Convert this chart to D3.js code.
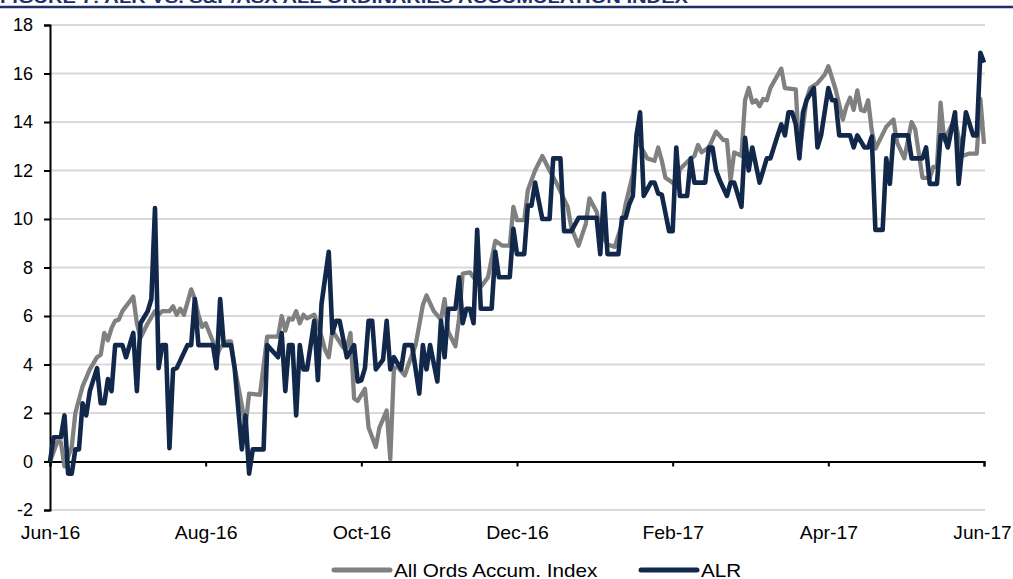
<!DOCTYPE html>
<html>
<head>
<meta charset="utf-8">
<script src="https://cdn.jsdelivr.net/npm/d3@7"></script>
<style>
  body { margin: 0; background: #fff; }
  text { font-family: "Liberation Sans", Arial, sans-serif; fill: #000; }
</style>
</head>
<body>
<script>
// month labels on the category axis, one every 43 trading days
const monthLabels = ["Jun-16", "Aug-16", "Oct-16", "Dec-16", "Feb-17", "Apr-17", "Jun-17"];
const labelDays = [0, 43, 86, 129, 172, 215, 258];
const yTicks = [-2, 0, 2, 4, 6, 8, 10, 12, 14, 16, 18];
const seriesNames = ["All Ords Accum. Index", "ALR"];
const titleText = "FIGURE 7: ALR VS. S&P/ASX ALL ORDINARIES ACCUMULATION INDEX";

// [trading day, % return]
const allOrds = [
  [0,0],[2,0.8],[3,0.8],[4,-0.2],[6,0.6],[7,2.0],[9,3.1],[11,3.8],[13,4.3],[14,4.4],
  [15,5.3],[16,5.0],[17,5.5],[18,5.8],[19,5.85],[20,6.2],[22,6.6],[23,6.8],[24,5.7],[25,5.1],
  [27,5.7],[29,6.2],[30,6.05],[31,6.2],[33,6.2],[34,6.4],[35,6.05],[36,6.3],[37,6.05],[39,7.1],
  [40,6.7],[41,6.05],[42,5.55],[43,5.7],[45,4.95],[46,4.3],[47,4.7],[49,4.95],[50,4.95],[51,3.9],
  [53,2.3],[54,1.45],[55,2.8],[58,2.75],[60,5.15],[63,5.15],[64,6.0],[65,5.4],[66,5.9],[67,5.85],
  [68,6.2],[69,5.7],[70,6.05],[71,5.9],[73,6.05],[75,5.15],[76,4.6],[77,4.3],[78,5.4],[81,4.7],
  [82,4.7],[83,5.3],[84,2.6],[85,2.5],[87,3.0],[88,1.4],[90,0.6],[91,1.4],[93,2.1],[94,0.1],
  [95,3.85],[96,3.9],[98,3.55],[99,4.0],[101,4.8],[103,6.45],[104,6.85],[106,6.2],[108,5.85],[109,6.7],
  [110,5.35],[112,4.75],[113,5.9],[114,7.75],[116,7.8],[119,7.2],[121,7.6],[123,9.1],[125,8.9],[127,8.9],
  [128,10.5],[129,9.95],[131,9.95],[132,11.2],[133,11.6],[134,12.0],[136,12.6],[138,12.0],[140,11.45],[143,10.5],
  [144,9.65],[146,8.9],[148,9.8],[149,10.85],[151,10.3],[152,9.5],[154,8.95],[156,8.85],[158,9.8],[159,10.6],
  [161,11.85],[162,13.3],[165,12.5],[167,12.4],[168,12.95],[169,12.4],[170,11.7],[172,11.5],[173,11.3],[174,12.05],
  [176,12.35],[178,12.6],[179,13.05],[180,12.75],[182,12.95],[184,13.6],[186,13.25],[187,13.25],[188,11.6],[189,12.75],
  [191,12.6],[192,14.9],[193,15.4],[194,14.8],[195,14.9],[196,14.65],[197,14.95],[198,14.9],[199,15.4],[202,16.2],
  [203,15.4],[206,15.35],[207,12.7],[209,14.95],[210,15.4],[212,15.6],[214,15.95],[215,16.3],[217,15.35],[219,14.1],
  [220,14.65],[221,15.0],[222,14.5],[223,15.3],[224,14.5],[225,14.45],[226,14.9],[227,13.65],[228,12.9],[230,13.5],
  [231,13.8],[233,14.1],[234,13.15],[236,12.5],[238,14.0],[239,13.7],[241,11.7],[243,11.7],[244,12.15],[245,12.15],
  [246,14.8],[247,13.25],[249,13.85],[250,14.1],[252,12.6],[254,12.7],[256,12.7],[257,14.95],[258,13.1]
];

const alr = [
  [0,0],[1,1.0],[3,1.0],[4,1.9],[5,-0.5],[6,-0.5],[7,0.5],[8,0.5],[9,2.4],[10,1.9],
  [11,2.9],[13,3.85],[14,2.4],[15,2.4],[16,3.4],[17,2.9],[18,4.8],[20,4.8],[21,4.3],[23,5.3],
  [24,2.9],[25,5.7],[27,6.2],[28,6.7],[29,10.45],[30,3.85],[31,4.8],[32,4.8],[33,0.55],[34,3.8],
  [35,3.85],[38,4.8],[39,4.8],[40,6.7],[41,4.8],[45,4.8],[46,3.85],[47,6.7],[48,4.8],[50,4.8],
  [51,3.85],[53,0.5],[54,1.9],[55,-0.5],[56,0.5],[59,0.5],[60,4.8],[63,4.3],[64,5.3],[65,2.9],
  [66,4.8],[67,4.8],[68,1.9],[69,4.8],[70,3.8],[71,3.8],[73,5.8],[74,3.35],[75,6.5],[77,8.65],
  [78,5.3],[79,5.8],[80,5.8],[82,4.3],[84,4.8],[85,3.3],[86,3.35],[87,3.85],[88,5.8],[89,5.8],
  [90,3.8],[92,4.2],[93,5.8],[94,3.8],[95,4.3],[97,3.8],[98,4.8],[100,4.8],[102,2.8],[103,4.8],
  [104,3.8],[105,4.8],[107,3.3],[108,5.8],[109,4.3],[110,6.3],[112,6.3],[113,7.6],[114,5.7],[115,6.3],
  [116,6.3],[117,5.7],[118,9.55],[119,6.3],[122,6.3],[123,8.65],[124,7.6],[127,7.6],[128,9.6],[129,8.55],
  [131,8.55],[132,10.55],[133,10.55],[134,11.5],[136,10.0],[138,10.0],[139,12.5],[141,12.5],[142,9.5],[144,9.5],
  [146,10.05],[151,10.05],[152,8.55],[153,11.05],[154,8.55],[157,8.55],[158,10.05],[159,10.05],[160,10.6],[161,10.95],
  [162,13.45],[163,14.4],[164,10.95],[166,11.5],[167,11.5],[168,11.05],[169,11.0],[171,9.5],[172,9.5],[173,12.95],
  [174,10.95],[176,10.95],[177,12.5],[178,11.5],[181,11.5],[182,12.95],[183,12.95],[184,12.0],[185,11.6],[187,10.95],
  [188,11.5],[189,11.5],[191,10.5],[192,13.35],[193,12.0],[194,12.95],[196,11.5],[198,12.5],[199,12.5],[201,13.45],
  [202,13.9],[203,13.45],[204,14.4],[205,14.4],[206,13.9],[207,12.5],[208,14.4],[209,14.9],[211,15.4],[212,12.95],
  [213,13.45],[215,15.4],[216,14.9],[217,14.9],[218,13.45],[221,13.45],[222,12.95],[223,13.45],[225,12.95],[226,12.95],
  [227,13.4],[228,9.55],[230,9.55],[231,12.5],[232,11.45],[233,13.45],[237,13.45],[238,12.5],[241,12.5],[242,12.95],
  [243,11.45],[245,11.45],[246,13.45],[247,13.45],[248,12.95],[250,14.4],[251,11.45],[253,14.4],[255,13.45],[256,13.45],
  [257,16.85],[258,16.45]
];

const navy = "#12284a";
const grey = "#808080";

let svg = null;
let x, y = null;
let margin = null, width = null, height = null;

setupCanvasSize();
appendSvg("body");
setupScales();
appendTitle();
appendGrid();
appendAxes();
appendLines();
appendLegend();

function setupCanvasSize() {
  margin = {top: 25, left: 50, right: 29, bottom: 69};
  width = 1013 - margin.left - margin.right;
  height = 579 - margin.top - margin.bottom;
}

function appendSvg(domElement) {
  svg = d3.select(domElement).append("svg")
    .attr("width", 1013)
    .attr("height", 579);
}

function setupScales() {
  x = d3.scaleLinear().domain([0, 258]).range([margin.left, margin.left + width]);
  y = d3.scaleLinear().domain([-2, 18]).range([margin.top + height, margin.top]);
}

function appendTitle() {
  // title sits above the crop, only its lower edge shows
  svg.append("text")
    .attr("x", 0)
    .attr("y", 2.5)
    .attr("textLength", 688)
    .attr("lengthAdjust", "spacingAndGlyphs")
    .style("font-size", "16px")
    .style("font-weight", "bold")
    .style("fill", "#1f3068")
    .text(titleText);

  svg.append("line")
    .attr("x1", 0).attr("x2", 1013)
    .attr("y1", 7).attr("y2", 7)
    .style("stroke", "#1f3068")
    .style("stroke-width", 2.5);
}

function appendGrid() {
  svg.append("g").selectAll("line")
    .data(yTicks.filter(d => d !== 0))
    .enter().append("line")
    .attr("x1", margin.left)
    .attr("x2", margin.left + width + 1)
    .attr("y1", d => y(d))
    .attr("y2", d => y(d))
    .style("stroke", "#d9d9d9")
    .style("stroke-width", 2);
}

function appendAxes() {
  const yAxis = svg.append("g")
    .attr("transform", `translate(${margin.left},0)`)
    .call(d3.axisLeft(y).tickValues(yTicks).tickSize(6).tickPadding(11).tickFormat(d => String(d)));

  const xAxis = svg.append("g")
    .attr("transform", `translate(0,${y(0)})`)
    .call(d3.axisBottom(x)
      .tickValues(labelDays)
      .tickSize(5)
      .tickPadding(60)
      .tickFormat((d, i) => monthLabels[i]));

  [yAxis, xAxis].forEach(g => {
    g.selectAll("path, line").style("stroke", "#000").style("stroke-width", 2);
    g.selectAll("text").style("font-size", "18px").style("font-family", "Liberation Sans, Arial, sans-serif");
  });

  // the month labels run a bit wide in the original; keep the last one inside the frame
  xAxis.selectAll("text")
    .attr("transform", (d, i) => i === monthLabels.length - 1 ? "translate(-2,0) scale(1.06,1)" : "scale(1.08,1)");
}

function appendLines() {
  const line = d3.line()
    .x(d => x(d[0]))
    .y(d => y(d[1]));

  svg.append("path")
    .datum(allOrds)
    .attr("d", line)
    .style("fill", "none")
    .style("stroke", grey)
    .style("stroke-width", 4.3)
    .style("stroke-linejoin", "round");

  svg.append("path")
    .datum(alr)
    .attr("d", line)
    .style("fill", "none")
    .style("stroke", navy)
    .style("stroke-width", 4.6)
    .style("stroke-linejoin", "round");
}

function appendLegend() {
  const items = [
    {name: seriesNames[0], color: grey, x: 334},
    {name: seriesNames[1], color: navy, x: 641}
  ];

  const legend = svg.append("g").attr("class", "legend");

  legend.selectAll("line")
    .data(items)
    .enter().append("line")
    .attr("x1", d => d.x)
    .attr("x2", d => d.x + 56)
    .attr("y1", 570)
    .attr("y2", 570)
    .style("stroke", d => d.color)
    .style("stroke-width", 5)
    .style("stroke-linecap", "round");

  legend.selectAll("text")
    .data(items)
    .enter().append("text")
    .attr("transform", d => `translate(${d.x + 60},576.5) scale(1.15,1)`)
    .style("font-size", "18px")
    .text(d => d.name);
}
</script>
</body>
</html>
